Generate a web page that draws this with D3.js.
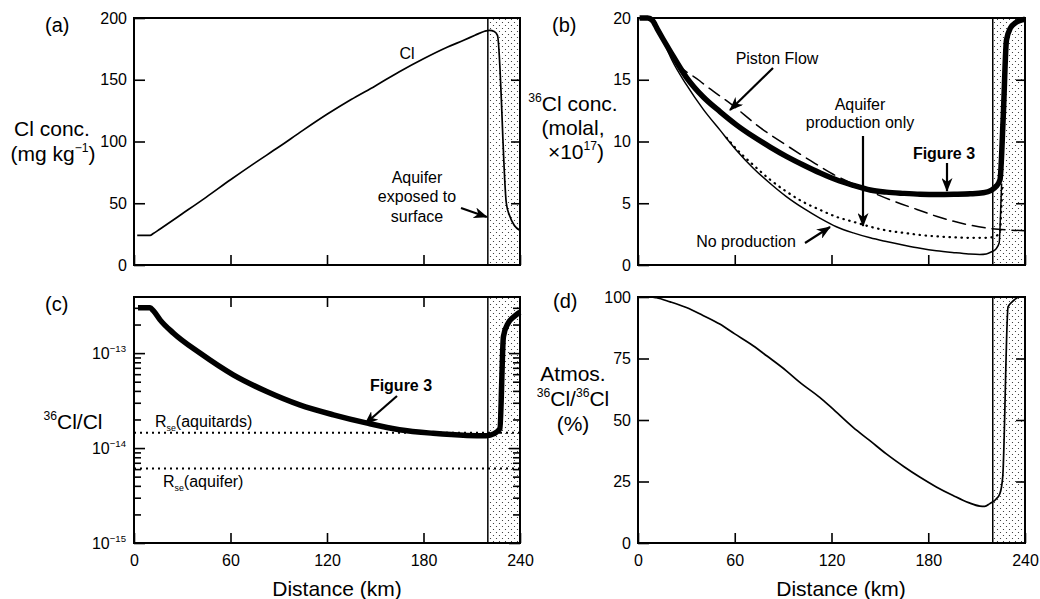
<!DOCTYPE html>
<html>
<head>
<meta charset="utf-8">
<script src="https://cdn.jsdelivr.net/npm/d3@7"></script>
<style>
  body { margin: 0; background: #fff; }
  svg { font-family: "Liberation Sans", Arial, Helvetica, sans-serif; }
</style>
</head>
<body>
<svg id="chart" width="1040" height="599"></svg>
<script>
// ---- data ----
const xTicks = [0, 60, 120, 180, 240];
const clTicks = [0, 50, 100, 150, 200];
const cl36Ticks = [0, 5, 10, 15, 20];
const atmTicks = [0, 25, 50, 75, 100];
const ratioTicks = [1e-15, 1e-14, 1e-13];
const ratioTickExp = ['\u221215', '\u221214', '\u221213'];
const exposedFrom = 220; // km, start of the stippled zone

// (a) Cl concentration, mg/kg
const clConc = [[2,24],[10,24],[12,25.5],[16,29],[30,41.5],[45,55],[60,69],[75,82.5],[90,95.5],[105,109],[120,122],[135,134],[150,145],[165,156.5],[180,167],[195,176.5],[205,182],[212,186],[218,189.3],[221,190],[224,189],[226,186],[231.5,50],[233.5,40],[236.5,32],[240,28]];

// (b) 36Cl concentration, molal x1e17
const fig3Conc = [[1,20],[6,20],[9,19.8],[12,19.1],[15.5,18.3],[20,17.3],[30,15.2],[40.5,13.6],[51,12.4],[61,11.35],[71.5,10.4],[82,9.55],[92,8.8],[102.5,8.1],[113,7.45],[123,6.9],[133.5,6.45],[144,6.07],[154,5.9],[165,5.8],[175,5.73],[185,5.7],[196,5.72],[206,5.76],[214,5.85],[219,6.05],[222,6.35],[224.5,6.9],[226.5,12],[228.5,18.2],[231,19.2],[234,19.6],[237,19.8],[240,19.9]];
const pistonConc = [[12,19.1],[16,18.3],[20.9,17.0],[38.4,14.9],[59,12.9],[76,11.1],[92,9.7],[107,8.45],[121,7.35],[138,6.3],[158,5.2],[173,4.5],[185,3.95],[200,3.4],[216,3.0],[231,2.83],[240,2.78]];
const noProdConc = [[12,19.1],[15.5,18.2],[21,16.6],[30,14.6],[40.5,12.6],[51,10.9],[61,9.3],[71.5,7.84],[82,6.6],[92,5.54],[102.5,4.6],[113,3.78],[123,3.1],[133.5,2.6],[144,2.2],[154,1.9],[165,1.6],[175,1.35],[185,1.15],[196,1.0],[205,0.9],[212,0.86],[216,0.9],[219,1.05],[222,1.3],[224,1.8],[224.8,4],[225.5,6.6]];
const aquiferProdConc = [[55,10.3],[61,9.4],[71.5,8.1],[82,6.9],[92,5.95],[102.5,5.1],[113,4.46],[123,3.9],[133.5,3.5],[144,3.1],[154,2.8],[165,2.6],[175,2.43],[185,2.32],[196,2.24],[206,2.2],[216,2.2],[222,2.35],[224.5,2.7],[225.3,4.5],[226,6.6]];

// (c) 36Cl/Cl ratio
const fig3Ratio = [[2.5,3e-13],[10,3e-13],[12,2.8e-13],[16.2,2.24e-13],[24.4,1.63e-13],[41,1e-13],[61.7,5.9e-14],[82.5,3.94e-14],[103,2.85e-14],[124,2.24e-14],[145,1.83e-14],[165,1.56e-14],[186,1.43e-14],[207,1.36e-14],[219,1.35e-14],[224,1.42e-14],[227.5,1.6e-14],[229.7,1.5e-13],[232.7,2.08e-13],[236,2.4e-13],[238.5,2.6e-13],[240,2.7e-13]];
const rseAquitards = 1.45e-14;
const rseAquifer = 6.1e-15;

// (d) atmospheric 36Cl / 36Cl, %
const atmosPct = [[0,100],[8,100],[11.4,99.7],[20,98],[30,95.7],[40,92.6],[50.7,89],[60,85],[71.4,80.2],[80,76],[92,70],[100,65.5],[112.7,59.2],[120,55],[133.4,47],[144,41.5],[154,36.2],[165,31],[174.7,26.8],[185,22.8],[195.4,19.3],[205,16.4],[212,15],[215,14.9],[218.2,16],[222,17.8],[224.4,20],[226.2,27],[229.5,96],[232,98],[236.5,100],[240,100]];

// ---- drawing ----
const svg = d3.select('#chart');
const defs = svg.append('defs');
const pat = defs.append('pattern').attr('id', 'stip')
  .attr('width', 6).attr('height', 6).attr('patternUnits', 'userSpaceOnUse');
pat.append('circle').attr('cx', 1.5).attr('cy', 1.5).attr('r', 0.6).attr('fill', '#222');
pat.append('circle').attr('cx', 4.5).attr('cy', 4.5).attr('r', 0.6).attr('fill', '#222');
defs.append('marker').attr('id', 'arr')
  .attr('viewBox', '0 0 14 11').attr('refX', 13).attr('refY', 5.5)
  .attr('markerWidth', 14).attr('markerHeight', 11)
  .attr('markerUnits', 'userSpaceOnUse').attr('orient', 'auto')
  .append('path').attr('d', 'M0,0 L14,5.5 L0,11 L4,5.5 Z').attr('fill', '#000');

function makePanel(x0, x1, y0, y1, y) {
  const x = d3.scaleLinear().domain([0, 240]).range([x0, x1]);
  const g = svg.append('g');
  g.append('rect')
    .attr('x', x(exposedFrom)).attr('y', y0)
    .attr('width', x(240) - x(exposedFrom)).attr('height', y1 - y0)
    .attr('fill', 'url(#stip)');
  g.append('line')
    .attr('x1', x(exposedFrom)).attr('x2', x(exposedFrom))
    .attr('y1', y0).attr('y2', y1)
    .attr('stroke', '#000').attr('stroke-width', 1.5);
  return { x, y, g, x0, x1, y0, y1 };
}

function frame(p) {
  p.g.append('rect')
    .attr('x', p.x0).attr('y', p.y0)
    .attr('width', p.x1 - p.x0).attr('height', p.y1 - p.y0)
    .attr('fill', 'none').attr('stroke', '#000').attr('stroke-width', 2);
}

function styleAxis(sel) {
  sel.select('.domain').remove();
  sel.selectAll('.tick line').attr('stroke', '#000').attr('stroke-width', 1.6);
  sel.selectAll('.tick text').style('font-size', '16px').attr('fill', '#000');
}

function linearAxes(p, yTicks, withXLabels, topTicks) {
  p.g.append('g').attr('transform', `translate(${p.x0},0)`)
    .call(d3.axisLeft(p.y).tickValues(yTicks).tickSizeInner(-11).tickSizeOuter(0).tickPadding(7))
    .call(styleAxis);
  p.g.append('g').attr('transform', `translate(${p.x1},0)`)
    .call(d3.axisRight(p.y).tickValues(yTicks.slice(1, -1)).tickSizeInner(-9).tickSizeOuter(0).tickFormat(''))
    .call(styleAxis);
  xAxes(p, withXLabels, topTicks);
}

function xAxes(p, withXLabels, topTicks) {
  const ax = d3.axisBottom(p.x).tickValues(xTicks).tickSizeInner(-10).tickSizeOuter(0).tickPadding(12);
  if (!withXLabels) ax.tickFormat('');
  p.g.append('g').attr('transform', `translate(0,${p.y1})`).call(ax).call(styleAxis);
  if (topTicks) {
    p.g.append('g').attr('transform', `translate(0,${p.y0})`)
      .call(d3.axisTop(p.x).tickValues(xTicks.slice(1, -1)).tickSizeInner(-10).tickSizeOuter(0).tickFormat(''))
      .call(styleAxis);
  }
}

function drawLine(p, data, width, dash) {
  const line = d3.line()
    .x(d => p.x(d[0]))
    .y(d => p.y(d[1]))
    .curve(d3.curveMonotoneX);
  p.g.append('path').datum(data)
    .attr('d', line)
    .attr('fill', 'none').attr('stroke', '#000')
    .attr('stroke-width', width)
    .attr('stroke-linejoin', 'round')
    .attr('stroke-linecap', dash ? 'round' : 'butt')
    .attr('stroke-dasharray', dash || null);
}

// rich text: parts = [[text, 'n'|'sup'|'sub']]
function richText(x, y, parts, size, anchor, weight, supScale) {
  const t = svg.append('text').attr('x', x).attr('y', y)
    .attr('text-anchor', anchor || 'middle')
    .style('font-size', size + 'px')
    .style('font-weight', weight || 'normal');
  let shift = 0;
  parts.forEach(([s, kind]) => {
    let target = 0, fs = size;
    if (kind === 'sup') { target = -size * 0.42; fs = size * (supScale || 0.58); }
    if (kind === 'sub') { target = size * 0.22; fs = size * 0.55; }
    t.append('tspan').attr('dy', target - shift).style('font-size', fs + 'px').text(s);
    shift = target;
  });
  return t;
}

function arrow(x1, y1, x2, y2) {
  svg.append('line')
    .attr('x1', x1).attr('y1', y1).attr('x2', x2).attr('y2', y2)
    .attr('stroke', '#000').attr('stroke-width', 2.2)
    .attr('marker-end', 'url(#arr)');
}

// panel (a)
const yA = d3.scaleLinear().domain([0, 200]).range([265, 18]);
const pA = makePanel(134, 520, 18, 265, yA);
drawLine(pA, clConc, 1.7);
linearAxes(pA, clTicks, false, false);
frame(pA);

// panel (b)
const yB = d3.scaleLinear().domain([0, 20]).range([265, 18]);
const pB = makePanel(638, 1025, 18, 265, yB);
drawLine(pB, pistonConc, 1.5, '13,7');
drawLine(pB, aquiferProdConc, 2.2, '0.5,5.5');
drawLine(pB, noProdConc, 1.5);
drawLine(pB, fig3Conc, 5.5);
linearAxes(pB, cl36Ticks, false, false);
frame(pB);

// panel (c)
const yC = d3.scaleLog().domain([1e-15, 3.9e-13]).range([543, 297]);
const pC = makePanel(134, 520, 297, 543, yC);
[rseAquitards, rseAquifer].forEach(v => {
  pC.g.append('line')
    .attr('x1', pC.x0).attr('x2', pC.x1)
    .attr('y1', yC(v)).attr('y2', yC(v))
    .attr('stroke', '#000').attr('stroke-width', 2)
    .attr('stroke-dasharray', '2,4');
});
drawLine(pC, fig3Ratio, 5.5);
const minorTicks = [];
[-15, -14, -13].forEach(e => {
  for (let k = 2; k <= 9; k++) {
    const v = k * Math.pow(10, e);
    if (v < 3.9e-13) minorTicks.push(v);
  }
});
[[pC.x0, d3.axisLeft], [pC.x1, d3.axisRight]].forEach(([xx, axisFn]) => {
  pC.g.append('g').attr('transform', `translate(${xx},0)`)
    .call(axisFn(yC).tickValues(ratioTicks).tickSizeInner(-11).tickSizeOuter(0).tickFormat(''))
    .call(styleAxis);
  pC.g.append('g').attr('transform', `translate(${xx},0)`)
    .call(axisFn(yC).tickValues(minorTicks).tickSizeInner(-7).tickSizeOuter(0).tickFormat(''))
    .call(styleAxis);
});
xAxes(pC, true, true);
frame(pC);
ratioTicks.forEach((v, i) => {
  richText(126, yC(v) + 6, [['10', 'n'], [ratioTickExp[i], 'sup']], 16, 'end', 'normal', 0.6);
});

// panel (d)
const yD = d3.scaleLinear().domain([0, 100]).range([543, 297]);
const pD = makePanel(638, 1025, 297, 543, yD);
drawLine(pD, atmosPct, 1.7);
linearAxes(pD, atmTicks, true, false);
frame(pD);

// panel letters
[['(a)', 45, 32], ['(b)', 552, 32], ['(c)', 45, 311], ['(d)', 553, 308]].forEach(([s, x, y]) => {
  svg.append('text').attr('x', x).attr('y', y).style('font-size', '20px').text(s);
});

// axis titles
richText(52, 136, [['Cl conc.', 'n']], 21);
richText(53, 161, [['(mg kg', 'n'], ['\u22121', 'sup'], [')', 'n']], 21);
richText(573, 111, [['36', 'sup'], ['Cl conc.', 'n']], 21);
richText(573, 135, [['(molal,', 'n']], 21);
richText(576, 159, [['\u00d710', 'n'], ['17', 'sup'], [')', 'n']], 21);
richText(73, 429, [['36', 'sup'], ['Cl/Cl', 'n']], 21);
richText(573, 381, [['Atmos.', 'n']], 21);
richText(573, 406, [['36', 'sup'], ['Cl/', 'n'], ['36', 'sup'], ['Cl', 'n']], 21);
richText(573, 431, [['(%)', 'n']], 21);
richText(337, 596, [['Distance (km)', 'n']], 21);
richText(841, 596, [['Distance (km)', 'n']], 21);

// annotations (a)
richText(407, 59, [['Cl', 'n']], 16);
richText(417, 183, [['Aquifer', 'n']], 16);
richText(417, 202, [['exposed to', 'n']], 16);
richText(417, 222, [['surface', 'n']], 16);
arrow(461, 208, pA.x(exposedFrom) - 1, 217);

// annotations (b)
richText(777, 64, [['Piston Flow', 'n']], 16);
arrow(773, 68, 730, 110);
richText(860, 110, [['Aquifer', 'n']], 16);
richText(860, 128, [['production only', 'n']], 16);
arrow(863, 136, 863, 226);
richText(944, 158.5, [['Figure 3', 'n']], 16, 'middle', 'bold');
arrow(947, 163, 947, 191);
richText(746, 247, [['No production', 'n']], 16);
arrow(805, 243, 830, 227);

// annotations (c)
richText(401, 391, [['Figure 3', 'n']], 16, 'middle', 'bold');
arrow(397, 396, 365, 424);
richText(155, 427, [['R', 'n'], ['se', 'sub'], ['(aquitards)', 'n']], 16, 'start');
richText(163, 487, [['R', 'n'], ['se', 'sub'], ['(aquifer)', 'n']], 16, 'start');
</script>
</body>
</html>
